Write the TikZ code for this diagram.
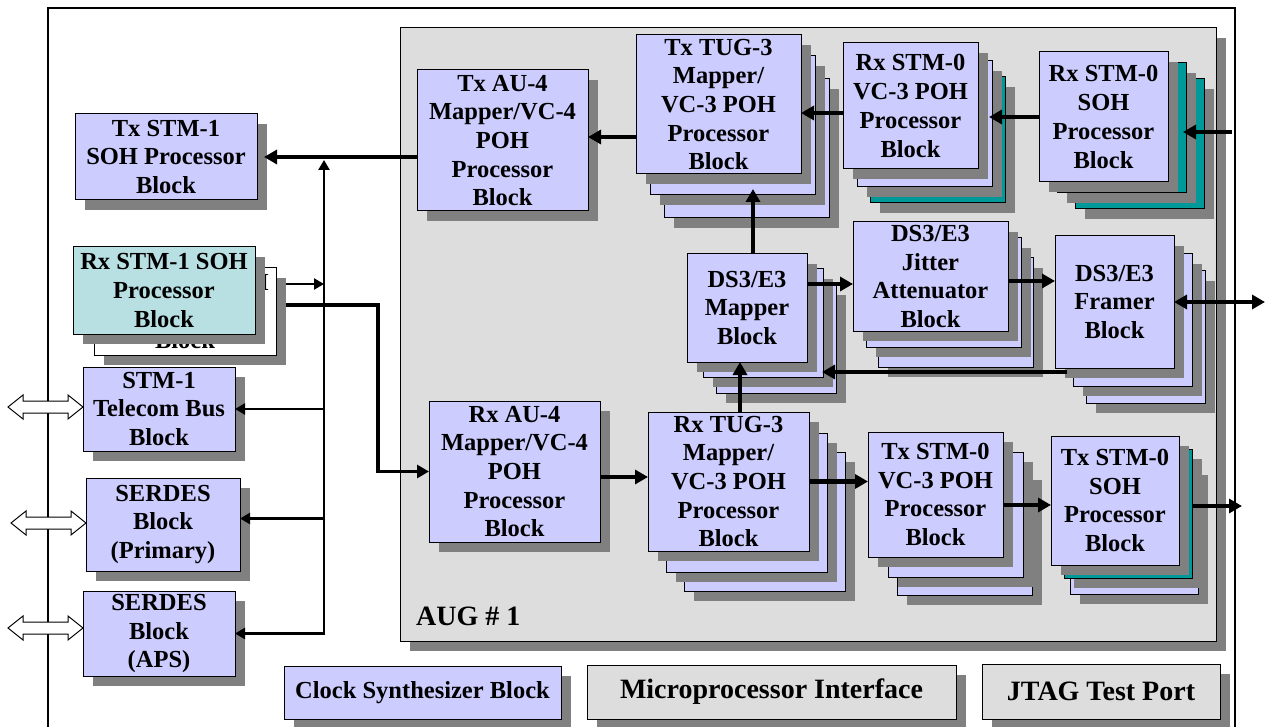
\documentclass[tikz,border=0pt]{standalone}
\usepackage{fontspec}
\setmainfont{Liberation Serif}
\usetikzlibrary{arrows.meta,calc}
\definecolor{lav}{HTML}{CCCCFF}
\definecolor{lteal}{HTML}{B8E0E3}
\definecolor{dteal}{HTML}{009999}
\definecolor{shd}{HTML}{808080}
\definecolor{augc}{HTML}{DDDDDD}
\tikzset{
  blk/.style={rectangle, draw=black, line width=1pt, inner sep=0pt, outer sep=0pt},
  txt/.style={align=center, inner sep=0pt, font=\fontsize{24.5}{28.7}\selectfont\bfseries},
  bigtxt/.style={align=center, inner sep=0pt, font=\fontsize{28}{32}\selectfont\bfseries},
  thk/.style={line width=4.5pt, -{Triangle[length=13pt,width=14pt]}},
  thkd/.style={line width=4.5pt, {Triangle[length=13pt,width=14pt]}-{Triangle[length=13pt,width=14pt]}},
  med/.style={line width=3.5pt, -{Triangle[length=12pt,width=13pt]}},
  thn/.style={line width=2.5pt, -{Triangle[length=10pt,width=11pt]}},
  thnd/.style={line width=2.5pt, {Triangle[length=10pt,width=11pt]}-{Triangle[length=10pt,width=11pt]}},
  hollow/.style={draw=black, line width=1pt, fill=white},
}
% box with shadow: name, x1, y1, x2, y2, fill
\newcommand\bx[6]{%
  \fill[shd] ({#2+10},{#3+10}) rectangle ({#4+10},{#5+10});
  \node[blk, fill=#6, minimum width={#4-#2}, minimum height={#5-#3}] (#1) at ({(#2+#4)/2},{(#3+#5)/2}) {};
}
\newcommand\tx[2]{\node[txt] (#1-t) at (#1.center) {#2};}
% hollow double arrow ending at a box's west side, shifted vertically
\newcommand\harrow[2]{%
  \begin{scope}[shift={($(#1.west)+(0,#2)$)}]
    \draw[hollow] (0,0) -- (-15,-12) -- (-15,-6) -- (-60,-6) -- (-60,-12) -- (-75,0)
      -- (-60,12) -- (-60,6) -- (-15,6) -- (-15,12) -- cycle;
  \end{scope}
}
\begin{document}
\begin{tikzpicture}[x=1pt,y=-1pt]
\useasboundingbox (0,0) rectangle (1266,727);
\clip (0,0) rectangle (1266,727);
\fill[white] (0,0) rectangle (1266,727);
% outer frame
\draw[line width=1.2pt] (48,760) -- (48,8) -- (1235,8) -- (1235,760);
% AUG area
\bx{aug}{400}{28}{1216}{641}{augc}
\node[bigtxt, anchor=base west] (auglbl) at (416,625) {AUG \# 1};

% left column
\bx{txstm1}{75}{114}{257}{200}{lav}
\tx{txstm1}{Tx STM-1\\SOH Processor\\Block}
\bx{rxstm1b}{94}{268}{276}{355}{white}
\tx{rxstm1b}{Rx STM-1 SOH\\Processor\\Block}
\bx{rxstm1}{73}{247}{255}{334}{lteal}
\tx{rxstm1}{Rx STM-1 SOH\\Processor\\Block}
\bx{tbus}{83}{367}{235}{451}{lav}
\tx{tbus}{STM-1\\Telecom Bus\\Block}
\bx{serp}{86}{478}{240}{571}{lav}
\tx{serp}{SERDES\\Block\\(Primary)}
\bx{sera}{83}{591}{235}{676}{lav}
\tx{sera}{SERDES\\Block\\(APS)}
\harrow{tbus}{-2}
\harrow{serp}{-1.5}
\harrow{sera}{-5.5}

% Tx AU-4
\bx{txau4}{417}{70}{588}{211}{lav}
\tx{txau4}{Tx AU-4\\Mapper/VC-4\\POH\\Processor\\Block}
% Tx TUG-3 stack
\bx{txtug3c}{664}{79}{829}{218}{lav}
\bx{txtug3b}{650}{56}{815}{195}{lav}
\bx{txtug3}{636}{35}{801}{174}{lav}
\tx{txtug3}{Tx TUG-3\\Mapper/\\VC-3 POH\\Processor\\Block}
% Rx STM-0 VC-3 stack
\bx{rxvc3c}{870}{77}{1005}{203}{dteal}
\bx{rxvc3b}{857}{61}{992}{187}{lav}
\bx{rxvc3}{843}{43}{978}{169}{lav}
\tx{rxvc3}{Rx STM-0\\VC-3 POH\\Processor\\Block}
% Rx STM-0 SOH stack
\bx{rxsohc}{1075}{79}{1204}{209}{dteal}
\bx{rxsohb}{1057}{63}{1186}{193}{dteal}
\bx{rxsoh}{1039}{52}{1168}{182}{lav}
\tx{rxsoh}{Rx STM-0\\SOH\\Processor\\Block}
% DS3/E3 Mapper stack
\bx{mapc}{716}{285}{836}{393}{lav}
\bx{mapb}{703}{269}{823}{377}{lav}
\bx{map}{687}{254}{807}{362}{lav}
\tx{map}{DS3/E3\\Mapper\\Block}
% Jitter stack
\bx{jitc}{878}{258}{1033}{367}{lav}
\bx{jitb}{866}{238}{1021}{347}{lav}
\bx{jit}{853}{222}{1008}{331}{lav}
\tx{jit}{DS3/E3\\Jitter\\Attenuator\\Block}
% Framer stack
\bx{frmc}{1086}{271}{1205}{403}{lav}
\bx{frmb}{1073}{254}{1192}{386}{lav}
\bx{frm}{1055}{236}{1174}{368}{lav}
\tx{frm}{DS3/E3\\Framer\\Block}
% Rx AU-4
\bx{rxau4}{429}{401}{600}{542}{lav}
\tx{rxau4}{Rx AU-4\\Mapper/VC-4\\POH\\Processor\\Block}
% Rx TUG-3 stack
\bx{rxtug3c}{684}{452}{845}{591}{lav}
\bx{rxtug3b}{666}{433}{827}{572}{lav}
\bx{rxtug3}{648}{412}{809}{551}{lav}
\tx{rxtug3}{Rx TUG-3\\Mapper/\\VC-3 POH\\Processor\\Block}
% Tx STM-0 VC-3 stack
\bx{txvc3c}{897}{470}{1032}{595}{lav}
\bx{txvc3b}{888}{452}{1023}{577}{lav}
\bx{txvc3}{868}{432}{1003}{557}{lav}
\tx{txvc3}{Tx STM-0\\VC-3 POH\\Processor\\Block}
% Tx STM-0 SOH stack
\bx{txsohc}{1070}{465}{1198}{594}{lav}
\bx{txsohb}{1064}{449}{1192}{578}{dteal}
\bx{txsoh}{1051}{436}{1179}{565}{lav}
\tx{txsoh}{Tx STM-0\\SOH\\Processor\\Block}

% bottom row
\bx{clk}{284}{666}{561}{719}{lav}
\tx{clk}{Clock Synthesizer Block}
\bx{mpi}{587}{665}{956}{719}{augc}
\node[bigtxt] (mpi-t) at (mpi.center) {Microprocessor Interface};
\bx{jtag}{982}{664}{1220}{719}{augc}
\node[bigtxt] (jtag-t) at (jtag.center) {JTAG Test Port};

% ---- connectors ----
% bus
\coordinate (bt) at (324,160);
\coordinate (bb) at (bt |- sera.east);
\draw[thnd] (bt) -- (bb) -- (sera.east);
\draw[thn] (bb |- tbus.east) -- (tbus.east);
\coordinate (sp) at ($(serp.east)+(0,-6)$);
\draw[thn] (bb |- sp) -- (sp);
\coordinate (r1) at (286,284);
\draw[thn] (r1) -- (bt |- r1);
% Tx AU-4 -> Tx STM-1
\coordinate (t1) at (txau4.west |- txstm1.east);
\draw[thk] (t1) -- ($(txstm1.east)+(7,0)$);
% Rx STM-1 -> Rx AU-4
\coordinate (r2) at (286,305);
\coordinate (r3) at (378,305);
\draw[med] (r2) -- (r3) -- (r3 |- rxau4.west) -- (rxau4.west);
% Tx path
\coordinate (c1) at ($(txtug3.west)+(0,32.5)$);
\draw[thk] (c1) -- (txau4.east |- c1);
\coordinate (c2) at ($(rxvc3.west)+(0,7)$);
\draw[thk] (c2) -- (txtug3.east |- c2);
\draw[thk] (rxsoh.west) -- ($(rxvc3.east |- rxsoh.west)+(11,0)$);
\coordinate (c3) at (1232,132);
\draw[thk] (c3) -- ($(rxsoh.east |- c3)+(15,0)$);
% DS3 paths
\coordinate (c4) at ($(map.north)+(6,0)$);
\draw[thk] (c4) -- ($(c4 |- txtug3.south)+(0,15)$);
\coordinate (c5) at ($(map.south)+(-7,0)$);
\draw[thk] (c5 |- rxtug3.north) -- (c5);
\coordinate (c6) at ($(map.east)+(0,-24)$);
\draw[thk] (c6) -- (jit.west |- c6);
\coordinate (c7) at ($(jit.east)+(0,4.5)$);
\draw[thk] (c7) -- (frm.west |- c7);
\coordinate (o1) at (1265,302);
\draw[thkd] (frm.east) -- (o1);
\coordinate (c8) at (1067,372);
\draw[thk] (c8) -- ($(map.east |- c8)+(15,0)$);
% Rx path
\coordinate (c9) at ($(rxau4.east)+(0,5.5)$);
\draw[thk] (c9) -- (rxtug3.west |- c9);
\draw[thk] (rxtug3.east) -- (txvc3.west |- rxtug3.east);
\coordinate (c10) at ($(txvc3.east)+(0,10.5)$);
\draw[thk] (c10) -- (txsoh.west |- c10);
\coordinate (c11) at ($(txsoh.east)+(13,5.5)$);
\coordinate (o2) at (1242,506);
\draw[thk] (c11) -- (o2);
\end{tikzpicture}
\end{document}
